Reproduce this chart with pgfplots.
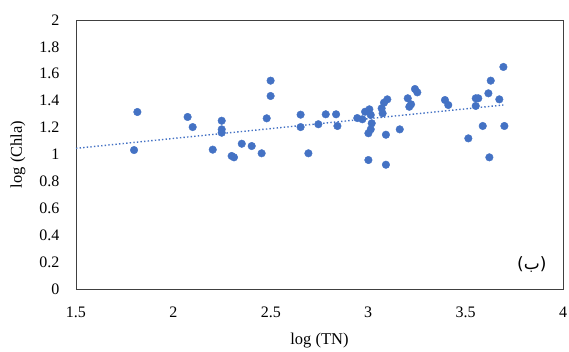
\documentclass[border=0pt]{standalone}
\usepackage{fontspec}
\setmainfont{Liberation Serif}
\newfontfamily\arabicfont[Script=Arabic]{DejaVu Sans}
\TeXXeTstate=1
\usepackage{pgfplots}
\pgfplotsset{compat=1.18}
\definecolor{ptblue}{HTML}{4472C4}
\begin{document}
\begin{tikzpicture}
\begin{axis}[
  scale only axis,
  width=487pt, height=269pt,
  xmin=1.5, xmax=4, ymin=0, ymax=2,
  xtick={1.5,2,2.5,3,3.5,4},
  ytick={0,0.2,0.4,0.6,0.8,1,1.2,1.4,1.6,1.8,2},
  yticklabels={0,0.2,0.4,0.6,0.8,1,1.2,1.4,1.6,1.8,2},
  xticklabels={1.5,2,2.5,3,3.5,4},
  tick style={draw=none},
  axis line style={draw=black!75, line width=0.9pt},
  ticklabel style={font=\fontsize{16}{18}\selectfont},
  xticklabel style={anchor=center, yshift=-23pt},
  yticklabel style={anchor=east, xshift=-13pt},
  xlabel={log (TN)}, ylabel={log (Chla)},
  label style={font=\fontsize{16.5}{18}\selectfont},
  xlabel style={at={(axis description cs:0.5,0)}, anchor=center, yshift=-52pt},
  ylabel style={at={(axis description cs:-0.119,0.5)}, anchor=center},
  /pgf/number format/assume math mode=true,
  clip=false,
]
\addplot[only marks, mark=*, mark size=3.8pt, ptblue, mark options={draw=ptblue, fill=ptblue}] coordinates {
(1.815,1.316) (1.798,1.033) (2.073,1.279) (2.099,1.204) (2.202,1.036)
(2.248,1.251) (2.248,1.187) (2.248,1.162) (2.299,0.989) (2.311,0.979)
(2.351,1.080) (2.402,1.063) (2.453,1.009) (2.479,1.269) (2.499,1.549)
(2.499,1.435) (2.653,1.296) (2.653,1.204) (2.693,1.009) (2.744,1.225)
(2.782,1.299) (2.835,1.299) (2.842,1.212) (2.944,1.271) (2.970,1.262)
(2.984,1.318) (3.006,1.336) (3.013,1.294) (3.018,1.232) (3.013,1.187)
(3.001,1.158) (3.001,0.959) (3.069,1.343) (3.074,1.306) (3.081,1.385)
(3.098,1.410) (3.091,1.147) (3.091,0.924) (3.162,1.187) (3.203,1.418)
(3.211,1.355) (3.220,1.373) (3.240,1.487) (3.252,1.462) (3.394,1.405)
(3.411,1.368) (3.514,1.120) (3.552,1.418) (3.552,1.361) (3.565,1.418)
(3.588,1.212) (3.617,1.455) (3.629,1.549) (3.622,0.979) (3.673,1.410)
(3.694,1.651) (3.699,1.212)
};
\addplot[ptblue, line width=1.4pt, dash pattern=on 1.4pt off 2.2pt] coordinates {(1.5,1.046) (3.694,1.368)};
\node[anchor=center, font=\arabicfont\fontsize{17}{19}\selectfont] at (axis cs:3.84,0.18) {\beginR(ب)\endR};
\end{axis}
\pgfresetboundingbox
\path[use as bounding box] ([xshift=-76pt,yshift=-62pt]current axis.south west) rectangle ([xshift=6pt,yshift=20pt]current axis.north east);
\end{tikzpicture}
\end{document}
